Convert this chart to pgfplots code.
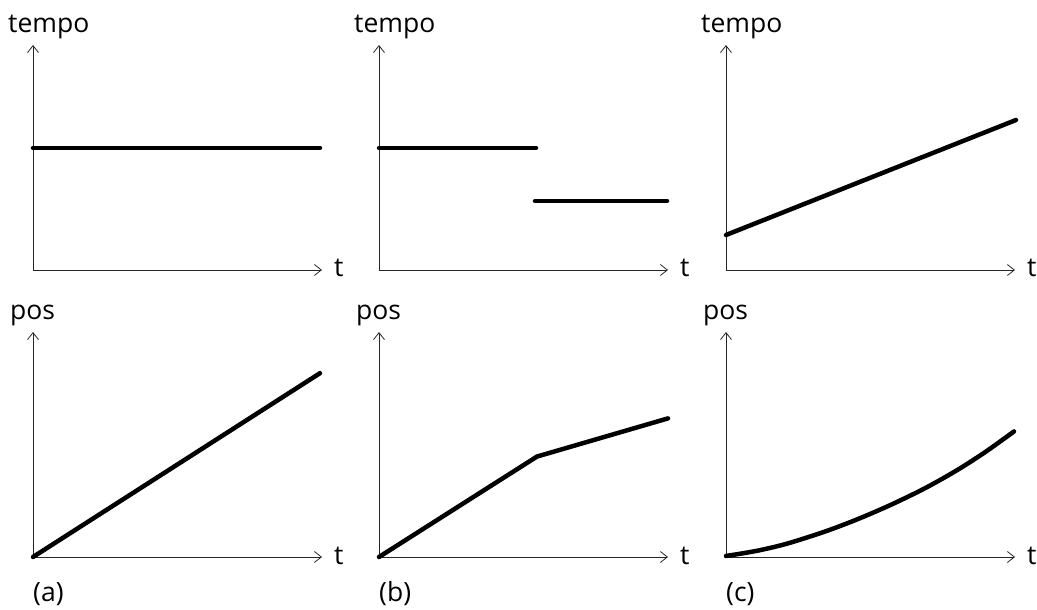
\documentclass[border=0pt]{standalone}
\usepackage{fontspec}
\setmainfont{Open Sans}
\usepackage{pgfplots}
\pgfplotsset{compat=1.18}
\usetikzlibrary{arrows.meta}

\pgfplotsset{
  panel/.style={
    scale only axis,
    width=289pt, height=225pt,
    xmin=0, xmax=289, ymin=0, ymax=225,
    axis lines=left,
    axis line style={line width=0.8pt, color=black!85,
      -{Straight Barb[length=7pt,width=11pt,line width=0.8pt]}},
    ticks=none,
    clip=false,
    anchor=origin,
  },
  curve/.style={black, line width=4.5pt, line cap=round, line join=round, mark=none},
}
\newcommand{\lab}[1]{\fontsize{26.5}{30}\selectfont #1}

\begin{document}
\begin{tikzpicture}[x=1pt,y=1pt]
% ---- top row: tempo ----
\begin{axis}[panel, at={(33pt,340pt)}]
\addplot[curve] coordinates {(0,122) (287,122)};
\node[anchor=base west, inner sep=0pt] at (axis cs:-25,237) {\lab{tempo}};
\node[anchor=base west, inner sep=0pt] at (axis cs:301,-7) {\lab{t}};
\end{axis}

\begin{axis}[panel, at={(379pt,340pt)}]
\addplot[curve] coordinates {(0,122) (157,122)};
\addplot[curve] coordinates {(156,69) (288,69)};
\node[anchor=base west, inner sep=0pt] at (axis cs:-25,237) {\lab{tempo}};
\node[anchor=base west, inner sep=0pt] at (axis cs:301,-7) {\lab{t}};
\end{axis}

\begin{axis}[panel, at={(726pt,340pt)}]
\addplot[curve] coordinates {(0,35) (290,150)};
\node[anchor=base west, inner sep=0pt] at (axis cs:-25,237) {\lab{tempo}};
\node[anchor=base west, inner sep=0pt] at (axis cs:301,-7) {\lab{t}};
\end{axis}

% ---- bottom row: pos ----
\begin{axis}[panel, at={(33pt,53pt)}, ymax=224]
\addplot[curve] coordinates {(0,0) (287,183)};
\node[anchor=base west, inner sep=0pt] at (axis cs:-23,236) {\lab{pos}};
\node[anchor=base west, inner sep=0pt] at (axis cs:301,-7) {\lab{t}};
\node[anchor=base west, inner sep=0pt] at (axis cs:0,-44) {\lab{(a)}};
\end{axis}

\begin{axis}[panel, at={(379pt,53pt)}, ymax=224]
\addplot[curve] coordinates {(0,0) (158,100) (289,138)};
\node[anchor=base west, inner sep=0pt] at (axis cs:-23,236) {\lab{pos}};
\node[anchor=base west, inner sep=0pt] at (axis cs:301,-7) {\lab{t}};
\node[anchor=base west, inner sep=0pt] at (axis cs:0,-44) {\lab{(b)}};
\end{axis}

\begin{axis}[panel, at={(726pt,53pt)}, ymax=224]
\addplot[curve, smooth] coordinates {
  (0,1) (30,6) (60,13) (98,25) (130,37) (165,52)
  (200,69) (232,87) (260,105) (288,125)};
\node[anchor=base west, inner sep=0pt] at (axis cs:-23,236) {\lab{pos}};
\node[anchor=base west, inner sep=0pt] at (axis cs:301,-7) {\lab{t}};
\node[anchor=base west, inner sep=0pt] at (axis cs:0,-44) {\lab{(c)}};
\end{axis}

\pgfresetboundingbox
\path[use as bounding box] (0,0) rectangle (1037,610);
\end{tikzpicture}
\end{document}
